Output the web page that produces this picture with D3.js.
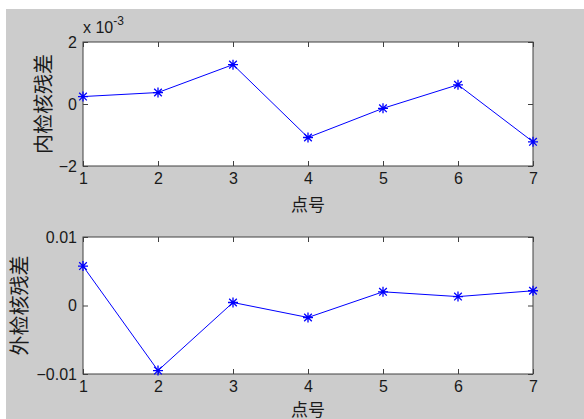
<!DOCTYPE html>
<html>
<head>
<meta charset="utf-8">
<script src="https://cdn.jsdelivr.net/npm/d3@7"></script>
<style>
  body { margin: 0; background: #ffffff; }
  svg { display: block; }
  .tick text { font-family: "Liberation Sans", Arial, sans-serif; font-size: 16px; fill: #1a1a1a; }
  .lab { font-family: "Noto Sans CJK SC", sans-serif; fill: #1a1a1a; }
</style>
</head>
<body>
<div id="chart"></div>
<script>
// point numbers
const points = [1, 2, 3, 4, 5, 6, 7];
// inner check residuals (plotted in units of 1e-3)
const innerResid = [0.00024, 0.00037, 0.00127, -0.00108, -0.00014, 0.00062, -0.00122];
// outer check residuals
const outerResid = [0.00575, -0.0095, 0.00044, -0.00175, 0.0020, 0.0013, 0.00215];
const innerTicks = [-0.002, 0, 0.002];
const outerTicks = [-0.01, 0, 0.01];

const width = 584, height = 419;
const svg = d3.select("#chart").append("svg")
  .attr("width", width).attr("height", height);

// figure background (white strip top/left like the screenshot)
svg.append("rect").attr("x", 6).attr("y", 9)
  .attr("width", width - 6).attr("height", height - 9)
  .attr("fill", "#cccccc");

const x = d3.scaleLinear().domain([1, 7]).range([83, 533]);

function drawPanel(vals, yDomain, yRange, ticks, fmt, ylab, ylabX, xlabY) {
  const y = d3.scaleLinear().domain(yDomain).range(yRange);
  const g = svg.append("g");
  const top = yRange[1], bot = yRange[0];

  g.append("rect")
    .attr("x", x(1)).attr("y", top)
    .attr("width", x(7) - x(1)).attr("height", bot - top)
    .attr("fill", "#ffffff");

  // bottom axis
  const ax = g.append("g").attr("transform", `translate(0,${bot})`)
    .call(d3.axisBottom(x).tickValues(points).tickFormat(d3.format("d"))
      .tickSizeInner(-5).tickSizeOuter(0).tickPadding(7));
  // top axis (ticks only)
  const axT = g.append("g").attr("transform", `translate(0,${top})`)
    .call(d3.axisTop(x).tickValues(points).tickFormat("")
      .tickSizeInner(-5).tickSizeOuter(0));
  // left axis
  const ay = g.append("g").attr("transform", `translate(${x(1)},0)`)
    .call(d3.axisLeft(y).tickValues(ticks).tickFormat(fmt)
      .tickSizeInner(-5).tickSizeOuter(0).tickPadding(6));
  // right axis (ticks only)
  const ayR = g.append("g").attr("transform", `translate(${x(7)},0)`)
    .call(d3.axisRight(y).tickValues(ticks).tickFormat("")
      .tickSizeInner(-5).tickSizeOuter(0));
  [ax, axT, ay, ayR].forEach(a => {
    a.select(".domain").remove();
    a.selectAll(".tick line").attr("stroke", "#404040");
  });

  g.append("rect")
    .attr("x", x(1)).attr("y", top)
    .attr("width", x(7) - x(1)).attr("height", bot - top)
    .attr("fill", "none").attr("stroke", "#404040").attr("stroke-width", 1);

  const line = d3.line().x((d, i) => x(points[i])).y(d => y(d));
  g.append("path").datum(vals)
    .attr("d", line).attr("fill", "none")
    .attr("stroke", "#0000ff").attr("stroke-width", 1);

  // asterisk markers
  const s = 5, sd = 3.8;
  const mk = g.selectAll(".mk").data(vals).join("g")
    .attr("transform", (d, i) => `translate(${x(points[i])},${y(d)})`);
  mk.append("path")
    .attr("d", `M${-s},0H${s}M0,${-s}V${s}M${-sd},${-sd}L${sd},${sd}M${-sd},${sd}L${sd},${-sd}`)
    .attr("stroke", "#0000ff").attr("stroke-width", 1.3).attr("fill", "none");

  g.append("text").attr("class", "lab").style("font-size", "20px")
    .attr("transform", `translate(${ylabX},${(top + bot) / 2}) rotate(-90)`)
    .attr("text-anchor", "middle").attr("dominant-baseline", "central")
    .text(ylab);
  g.append("text").attr("class", "lab").style("font-size", "17px")
    .attr("x", (x(1) + x(7)) / 2).attr("y", xlabY)
    .attr("text-anchor", "middle").attr("dominant-baseline", "central")
    .text("点号");
  return g;
}

const g1 = drawPanel(innerResid, [-0.002, 0.002], [166, 42], innerTicks,
  d => d3.format("d")(d * 1000), "内检核残差", 42, 203);
const g2 = drawPanel(outerResid, [-0.01, 0.01], [374, 237], outerTicks,
  d => d === 0 ? "0" : d3.format(".2f")(d), "外检核残差", 18, 408);

// exponent label
const ex = g1.append("text")
  .attr("x", 83).attr("y", 33)
  .style("font-family", "'Liberation Sans', Arial, sans-serif")
  .style("font-size", "16px").attr("fill", "#1a1a1a");
ex.append("tspan").text("x 10");
ex.append("tspan").attr("dy", -8).style("font-size", "12px").text("-3");
</script>
</body>
</html>
